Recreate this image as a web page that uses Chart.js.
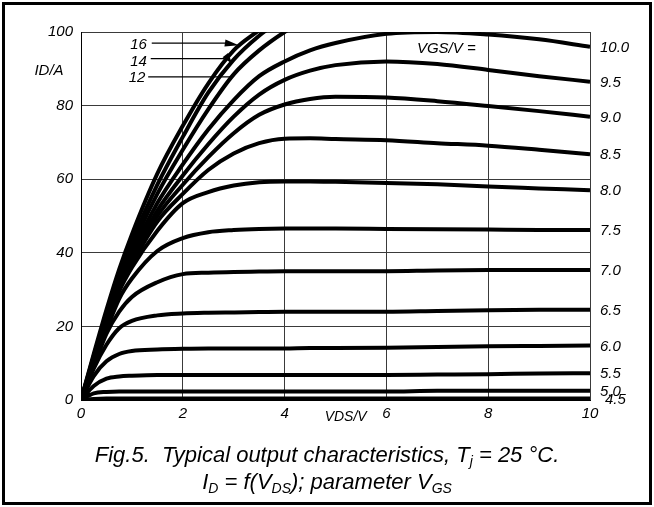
<!DOCTYPE html>
<html>
<head>
<meta charset="utf-8">
<script src="https://cdn.jsdelivr.net/npm/chart.js@4.4.1/dist/chart.umd.min.js"></script>
<style>
  html, body { margin: 0; padding: 0; background: #fff; }
  #wrap { position: relative; width: 654px; height: 507px; }
  #frame { position: absolute; left: 2px; top: 2px; width: 650px; height: 503px; box-sizing: border-box; border: 3px solid #000; pointer-events: none; }
  #caption { position: absolute; left: 0; top: 441px; width: 654px; text-align: center; font: italic 22px "Liberation Sans", Arial, sans-serif; line-height: 27px; color: #000; }
  #caption sub { font-size: 14px; vertical-align: -4px; line-height: 0; }
</style>
</head>
<body>
<div id="wrap">
  <canvas id="chart" width="654" height="507"></canvas>
  <div id="caption">
    Fig.5.&nbsp; Typical output characteristics, T<sub>j</sub> = 25 °C.<br>
    I<sub>D</sub> = f(V<sub>DS</sub>); parameter V<sub>GS</sub>
  </div>
  <div id="frame"></div>
</div>
<script>
// V_DS sample points (V)
const vds = [0, 0.25, 0.5, 0.75, 1, 1.5, 2, 2.5, 3, 3.5, 4, 4.5, 5, 6, 7, 8, 9, 10];

// I_D (A) for each V_GS
const id16  = [0, 12.5, 24.5, 35.5, 45, 61.5, 74.5, 86, 95, 100.5, 106];
const id14  = [0, 12, 23.5, 34, 43, 58.5, 71.5, 83.5, 92.5, 99, 104];
const id12  = [0, 11.5, 22.5, 32.5, 41.5, 56, 68, 79, 88.5, 95, 100, 104];
const id100 = [0, 11, 22, 31.5, 40, 53.5, 64, 73.5, 81.5, 88, 92, 95, 97, 99.5, 100, 99.3, 98, 96];
const id95  = [0, 11, 21.5, 31, 39, 51.5, 61, 69.5, 77, 83, 87, 89.5, 91, 92, 91.3, 89.7, 88, 86.5];
const id90  = [0, 10.5, 21, 30.5, 38, 50, 58.5, 66, 72.5, 77.5, 80.3, 81.8, 82.4, 82.2, 81.2, 79.9, 78.5, 77];
const id85  = [0, 10.5, 20.5, 30, 37, 48.5, 56, 62.5, 67, 69.8, 71, 71.1, 70.9, 70.6, 69.8, 69.1, 68, 66.8];
const id80  = [0, 10, 20, 29.5, 36, 46, 53.5, 56.5, 58.3, 59.2, 59.4, 59.4, 59.3, 59, 58.6, 58, 57.5, 57];
const id75  = [0, 9.5, 19, 27.5, 33, 40.5, 44, 45.6, 46.2, 46.5, 46.6, 46.6, 46.6, 46.5, 46.4, 46.3, 46.2, 46.2];
const id70  = [0, 9, 18, 24, 28, 32, 34.2, 34.6, 34.8, 34.9, 35, 35, 35, 35, 35.2, 35.3, 35.3, 35.3];
const id65  = [0, 8.5, 15, 19.5, 21.5, 23, 23.5, 23.7, 23.8, 23.9, 24, 24, 24, 24, 24.2, 24.4, 24.5, 24.5];
const id60  = [0, 6.5, 10.5, 12.5, 13.3, 13.7, 13.9, 14, 14, 14, 14, 14.1, 14.1, 14.2, 14.4, 14.6, 14.7, 14.8];
const id55  = [0, 3.8, 5.8, 6.4, 6.6, 6.8, 6.8, 6.8, 6.8, 6.8, 6.8, 6.8, 6.8, 6.8, 6.9, 7, 7.2, 7.3];
const id50  = [0, 1.8, 2.2, 2.3, 2.3, 2.3, 2.3, 2.3, 2.3, 2.3, 2.3, 2.3, 2.3, 2.3, 2.5, 2.5, 2.5, 2.5];
const id45  = [0, 0.3, 0.4, 0.4, 0.4, 0.4, 0.4, 0.4, 0.4, 0.4, 0.4, 0.4, 0.4, 0.4, 0.4, 0.4, 0.4, 0.4];

const vgsLabels = ['16', '14', '12', '10.0', '9.5', '9.0', '8.5', '8.0', '7.5', '7.0', '6.5', '6.0', '5.5', '5.0', '4.5'];
const series = [id16, id14, id12, id100, id95, id90, id85, id80, id75, id70, id65, id60, id55, id50, id45];

// pointer labels for the steep curves: text position and leader line, in V / A
const pointerLabels = ['16', '14', '12'];
const pointerTextV = [1.13, 1.13, 1.10];
const pointerI = [96.7, 92.2, 87.8];
const pointerFromV = [1.39, 1.37, 1.32];
const pointerToV = [3.10, 2.97, 2.93];

const FONT = '"Liberation Sans", Arial, sans-serif';
const tickFont = { family: FONT, size: 15, style: 'italic' };

const datasets = series.map((ys, i) => ({
  label: vgsLabels[i],
  data: ys.map((y, k) => ({ x: vds[k], y })),
  borderColor: '#000',
  borderWidth: 4,
  pointRadius: 0,
  fill: false,
  cubicInterpolationMode: 'monotone',
  clip: 0
}));

function arrowHead(ctx, x, y, ang, len, half) {
  ctx.beginPath();
  ctx.moveTo(x, y);
  ctx.lineTo(x - len * Math.cos(ang) + half * Math.sin(ang), y - len * Math.sin(ang) - half * Math.cos(ang));
  ctx.lineTo(x - len * Math.cos(ang) - half * Math.sin(ang), y - len * Math.sin(ang) + half * Math.cos(ang));
  ctx.closePath();
  ctx.fill();
}

const labelsPlugin = {
  id: 'labels',
  afterDraw(chart) {
    const { ctx, chartArea, scales: { x, y } } = chart;
    ctx.save();
    ctx.fillStyle = '#000';
    ctx.strokeStyle = '#000';
    ctx.font = 'italic 15px ' + FONT;
    ctx.textBaseline = 'middle';

    // V_GS values at the right end of each curve
    ctx.textAlign = 'left';
    series.forEach((ys, i) => {
      if (i < 3) return;
      const dx = i === series.length - 1 ? 15 : 10;
      ctx.fillText(vgsLabels[i], chartArea.right + dx, y.getPixelForValue(ys[ys.length - 1]) + 1);
    });

    ctx.fillText('VGS/V =', x.getPixelForValue(6.6), y.getPixelForValue(95.4));

    ctx.textAlign = 'center';
    ctx.fillText('ID/A', chartArea.left - 32, y.getPixelForValue(89.4));
    ctx.font = 'italic 14px ' + FONT;
    ctx.fillText('VDS/V', x.getPixelForValue(5.2), chartArea.bottom + 17);

    // leader lines for 16 / 14 / 12
    ctx.font = 'italic 15px ' + FONT;
    ctx.lineWidth = 1.2;
    pointerLabels.forEach((lab, i) => {
      const py = y.getPixelForValue(pointerI[i]);
      ctx.fillText(lab, x.getPixelForValue(pointerTextV[i]), py + 1);
      const x0 = x.getPixelForValue(pointerFromV[i]);
      const x1 = x.getPixelForValue(pointerToV[i]);
      ctx.beginPath();
      if (i === 0) {
        ctx.moveTo(x0, py - 1);
        ctx.lineTo(x1 - 12, py - 1);
        ctx.stroke();
        arrowHead(ctx, x1, py + 1, 0.15, 14, 3.5);
      } else if (i === 1) {
        ctx.moveTo(x0, py - 2);
        ctx.lineTo(x1 - 8, py - 2);
        ctx.stroke();
        arrowHead(ctx, x1, py + 3, 0.9, 11, 3.5);
      } else {
        ctx.moveTo(x0, py);
        ctx.lineTo(x1, py);
        ctx.stroke();
      }
    });
    ctx.restore();
  }
};

new Chart(document.getElementById('chart'), {
  type: 'line',
  data: { datasets },
  plugins: [labelsPlugin],
  options: {
    responsive: false,
    animation: false,
    events: [],
    layout: { padding: { top: 32, right: 64, left: 0, bottom: 0 } },
    plugins: { legend: { display: false }, tooltip: { enabled: false } },
    scales: {
      x: {
        type: 'linear',
        min: 0,
        max: 10,
        ticks: { stepSize: 2, color: '#000', font: tickFont, padding: 5, maxRotation: 0 },
        grid: { color: '#3a3a3a', lineWidth: 1, drawTicks: false },
        border: { color: '#000', width: 1 },
        afterFit: (s) => { s.height = 107; }
      },
      y: {
        type: 'linear',
        min: 0,
        max: 100,
        ticks: { stepSize: 20, color: '#000', font: tickFont, padding: 8 },
        grid: { color: '#3a3a3a', lineWidth: 1, drawTicks: false },
        border: { color: '#000', width: 1 },
        afterFit: (s) => { s.width = 81; }
      }
    }
  }
});
</script>
</body>
</html>
